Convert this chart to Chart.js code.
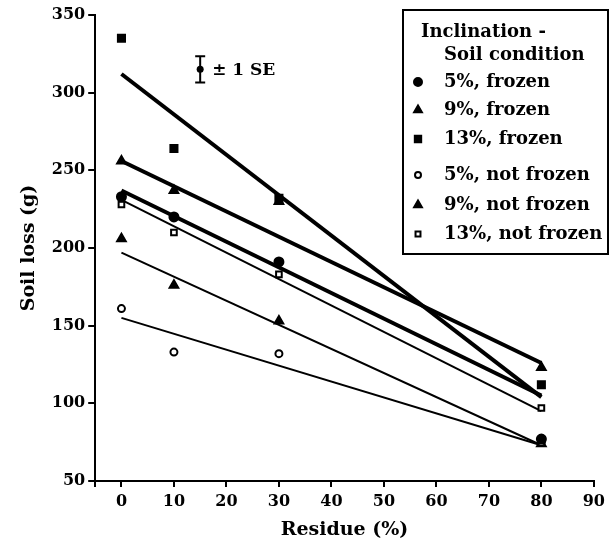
<!DOCTYPE html>
<html>
<head>
<meta charset="utf-8">
<script src="https://cdn.jsdelivr.net/npm/chart.js@4.4.1/dist/chart.umd.min.js"></script>
<style>
  html, body { margin: 0; padding: 0; background: #fff; }
  #wrap { width: 610px; height: 545px; position: relative; }
</style>
</head>
<body>
<div id="wrap"><canvas id="soilChart" width="610" height="545"></canvas></div>
<script>
// Data
const residue = [0, 10, 30, 80];
const seriesNames = ['5%, frozen', '9%, frozen', '13%, frozen', '5%, not frozen', '9%, not frozen', '13%, not frozen'];
const frozen5 = [233, 220, 191, 77];
const frozen9 = [256, 237, 230, 123];
const frozen13 = [335, 264, 232, 112];
const notFrozen5 = [161, 133, 132, 75];
const notFrozen9 = [206, 176, 153, 74];
const notFrozen13 = [228, 210, 183, 97];
// fitted line ends (at 0 % and 80 % residue)
const fitX = [0, 80];
const fitFrozen5 = [237, 105];
const fitFrozen9 = [256, 126];
const fitFrozen13 = [312, 104];
const fitNotFrozen5 = [155, 73];
const fitNotFrozen9 = [197, 73];
const fitNotFrozen13 = [231, 95];
// ±1 SE marker
const seX = 15;
const seMid = 315;
const seHalf = 8.5;
const xTicks = [-5, 0, 10, 20, 30, 40, 50, 60, 70, 80, 90];
const yTicks = [50, 100, 150, 200, 250, 300, 350];

const FONT = '"DejaVu Serif", "Liberation Serif", serif';

const pointSeries = [frozen5, frozen9, frozen13, notFrozen5, notFrozen9, notFrozen13];
const fitSeries = [fitFrozen5, fitFrozen9, fitFrozen13, fitNotFrozen5, fitNotFrozen9, fitNotFrozen13];
const styles = ['circle', 'triangle', 'rect', 'circle', 'triangle', 'rect'];
const fills = ['#000', '#000', '#000', '#fff', '#000', '#fff'];
const radii = [4.5, 5, 5, 3.5, 5, 4];

const datasets = [];
pointSeries.forEach((s, i) => {
    datasets.push({
        type: 'scatter',
        label: seriesNames[i],
        data: residue.map((x, j) => ({x: x, y: s[j]})),
        pointStyle: styles[i],
        pointRadius: radii[i],
        backgroundColor: fills[i],
        borderColor: '#000',
        borderWidth: 2
    });
});
fitSeries.forEach((f, i) => {
    datasets.push({
        type: 'line',
        data: fitX.map((x, j) => ({x: x, y: f[j]})),
        borderColor: '#000',
        borderWidth: i < 3 ? 4 : 2,
        pointRadius: 0,
        fill: false
    });
});

// legend box + SE marker drawn on top
const extras = {
    id: 'extras',
    afterDatasetsDraw(chart) {
        const c = chart.ctx;
        const xs = chart.scales.x, ys = chart.scales.y;
        c.save();
        // SE bar
        const sx = xs.getPixelForValue(seX);
        const top = ys.getPixelForValue(seMid + seHalf), bot = ys.getPixelForValue(seMid - seHalf);
        c.strokeStyle = '#000'; c.lineWidth = 2;
        c.beginPath();
        c.moveTo(sx, top); c.lineTo(sx, bot);
        c.moveTo(sx - 5, top); c.lineTo(sx + 5, top);
        c.moveTo(sx - 5, bot); c.lineTo(sx + 5, bot);
        c.stroke();
        c.fillStyle = '#000';
        c.beginPath(); c.arc(sx, ys.getPixelForValue(seMid), 3.5, 0, Math.PI * 2); c.fill();
        c.font = 'bold 17px ' + FONT;
        c.textBaseline = 'middle';
        c.fillText('\u00b1 1 SE', sx + 12, ys.getPixelForValue(seMid) + 1);

        // legend
        c.fillStyle = '#fff';
        c.fillRect(403, 10, 205, 244);
        c.lineWidth = 2;
        c.strokeRect(403, 10, 205, 244);
        c.fillStyle = '#000';
        c.font = 'bold 18px ' + FONT;
        c.fillText('Inclination -', 421, 32);
        c.fillText('Soil condition', 444, 55);
        const rows = [82, 110, 139, 175, 205, 234];
        seriesNames.forEach((name, i) => {
            c.fillStyle = '#000';
            c.fillText(name, 444, rows[i]);
            c.fillStyle = fills[i];
            c.strokeStyle = '#000';
            c.lineWidth = 2;
            Chart.helpers.drawPoint(c, {pointStyle: styles[i], radius: radii[i] - 0.5, borderWidth: 2}, 418, rows[i]);
        });
        c.restore();
    }
};

new Chart(document.getElementById('soilChart'), {
    type: 'scatter',
    data: {datasets: datasets},
    plugins: [extras],
    options: {
        responsive: false,
        animation: false,
        layout: {padding: {top: 15, right: 14, left: 14, bottom: 0}},
        plugins: {legend: {display: false}, tooltip: {enabled: false}},
        scales: {
            x: {
                type: 'linear',
                min: -5, max: 90,
                afterBuildTicks: axis => { axis.ticks = xTicks.map(v => ({value: v})); },
                grid: {
                    display: true, drawOnChartArea: false, drawTicks: true, tickLength: 6,
                    tickWidth: 2, tickColor: '#000', color: '#000', lineWidth: 2
                },
                border: {display: true, color: '#000', width: 2},
                ticks: {
                    color: '#000',
                    font: {family: FONT, size: 16, weight: 'bold'},
                    padding: 5,
                    maxRotation: 0,
                    callback: v => v < 0 ? '' : v
                },
                title: {display: true, text: 'Residue (%)', color: '#000', font: {family: FONT, size: 19, weight: 'bold'}, padding: {top: 2, bottom: 4}}
            },
            y: {
                type: 'linear',
                min: 50, max: 350,
                afterBuildTicks: axis => { axis.ticks = yTicks.map(v => ({value: v})); },
                grid: {
                    display: true, drawOnChartArea: false, drawTicks: true, tickLength: 7,
                    tickWidth: 2, tickColor: '#000', color: '#000', lineWidth: 2
                },
                border: {display: true, color: '#000', width: 2},
                ticks: {
                    color: '#000',
                    font: {family: FONT, size: 16, weight: 'bold'},
                    padding: 3
                },
                title: {display: true, text: 'Soil loss (g)', color: '#000', font: {family: FONT, size: 19, weight: 'bold'}, padding: {bottom: 8}}
            }
        }
    }
});
</script>
</body>
</html>
